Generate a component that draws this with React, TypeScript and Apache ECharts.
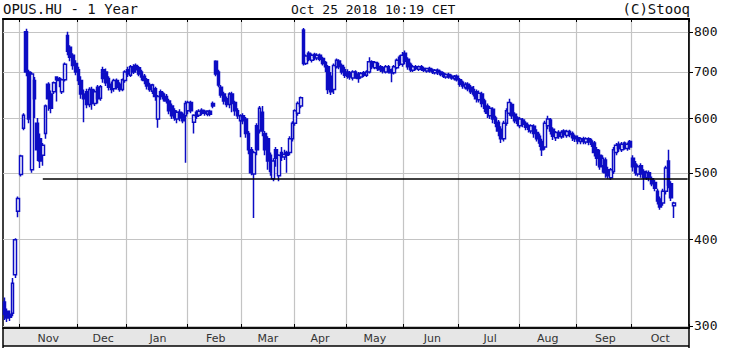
import React, { useEffect, useRef } from 'react';
import * as echarts from 'echarts';

type OHLC = [number, number, number, number]; // open, close, low, high

const oct17: OHLC[] = [
  [325, 312, 306, 330], [315, 308, 304, 318], [312, 309, 305, 316], [313, 346, 310, 352],
  [356, 400, 352, 402], [440, 459, 431, 462],
];
const nov17: OHLC[] = [
  [497, 529, 494, 531], [580, 606, 576, 610], [800, 700, 690, 808], [700, 598, 590, 705],
  [505, 695, 500, 700], [680, 640, 600, 688], [590, 540, 520, 600], [560, 520, 508, 570],
  [530, 548, 512, 552], [570, 625, 560, 628], [672, 640, 615, 676], [650, 620, 610, 658],
  [655, 675, 650, 678], [688, 682, 634, 690], [685, 680, 665, 688], [655, 682, 650, 685],
  [682, 718, 678, 722], [790, 750, 740, 800], [760, 735, 725, 765], [740, 715, 705, 745],
  [720, 700, 692, 728],
];
const dec17: OHLC[] = [
  [705, 680, 670, 712], [680, 650, 640, 690], [650, 640, 592, 660], [655, 628, 620, 662],
  [628, 660, 622, 665], [660, 630, 617, 666], [630, 655, 625, 660], [665, 640, 630, 670],
  [641, 666, 636, 670], [705, 685, 675, 712], [700, 675, 668, 708], [685, 665, 658, 690],
  [672, 660, 652, 678], [662, 680, 655, 684], [680, 665, 660, 685], [672, 660, 655, 676],
  [660, 682, 656, 685], [680, 700, 675, 704],
];
const jan18: OHLC[] = [
  [705, 695, 688, 712], [692, 712, 688, 716], [712, 700, 695, 718], [715, 705, 698, 720],
  [710, 695, 690, 714], [700, 688, 680, 705], [690, 680, 672, 695], [682, 668, 660, 686],
  [670, 660, 655, 675], [656, 670, 650, 673], [662, 645, 636, 666], [598, 645, 581, 648],
  [655, 645, 638, 660], [650, 640, 634, 654], [645, 635, 630, 650], [635, 615, 608, 640],
  [625, 605, 598, 630], [615, 600, 595, 620], [598, 612, 590, 616], [612, 600, 594, 618],
  [608, 595, 590, 612], [605, 630, 517, 636],
];
const feb18: OHLC[] = [
  [615, 632, 608, 636], [632, 615, 610, 636], [592, 606, 570, 608], [612, 604, 598, 616],
  [606, 614, 602, 618], [616, 610, 606, 620], [614, 610, 605, 617], [608, 614, 604, 616],
  [614, 608, 604, 617], [630, 625, 620, 634], [725, 695, 690, 728], [700, 670, 665, 705],
  [665, 648, 642, 670], [650, 635, 628, 655], [640, 628, 622, 645], [628, 650, 620, 654],
  [650, 630, 612, 655], [632, 615, 605, 636], [615, 605, 598, 620], [595, 605, 563, 608],
];
const mar18: OHLC[] = [
  [605, 595, 588, 610], [598, 570, 562, 602], [570, 540, 532, 575], [540, 500, 496, 545],
  [498, 535, 430, 538], [585, 540, 530, 590], [576, 620, 570, 625], [612, 575, 565, 625],
  [570, 540, 530, 575], [560, 520, 505, 565], [530, 502, 495, 535], [490, 520, 486, 525],
  [540, 525, 510, 545], [495, 530, 486, 532], [535, 528, 520, 545], [527, 532, 522, 540],
  [535, 530, 500, 538], [535, 560, 530, 565], [560, 590, 555, 594],
];
const apr18: OHLC[] = [
  [590, 615, 585, 618], [610, 630, 605, 634], [625, 642, 620, 645], [805, 720, 715, 810],
  [720, 738, 716, 742], [745, 730, 725, 750], [728, 740, 722, 744], [742, 735, 728, 746],
  [733, 740, 728, 745], [740, 730, 725, 744], [732, 720, 715, 736], [722, 712, 700, 726],
  [712, 660, 650, 716], [690, 655, 648, 700], [660, 715, 650, 720], [712, 728, 708, 732],
  [726, 712, 706, 730], [715, 700, 694, 720], [705, 692, 686, 712],
];
const may18: OHLC[] = [
  [700, 690, 684, 706], [698, 688, 682, 702], [686, 700, 680, 704], [700, 690, 684, 704],
  [695, 685, 675, 700], [688, 696, 684, 700], [698, 692, 688, 702], [692, 700, 688, 704],
  [700, 724, 696, 735], [724, 712, 706, 728], [710, 722, 706, 726], [720, 708, 702, 724],
  [712, 705, 700, 716], [710, 702, 696, 714], [700, 712, 696, 716], [712, 702, 696, 716],
  [705, 698, 676, 708], [698, 712, 694, 716], [710, 728, 706, 732], [735, 720, 714, 740],
  [718, 740, 712, 748],
];
const jun18: OHLC[] = [
  [745, 725, 718, 752], [730, 712, 705, 735], [718, 705, 700, 722], [704, 712, 700, 716],
  [712, 708, 704, 716], [706, 712, 702, 715], [712, 706, 702, 716], [708, 704, 700, 712],
  [702, 708, 698, 710], [708, 702, 698, 712], [704, 700, 695, 708], [698, 704, 694, 707],
  [704, 698, 693, 708], [700, 694, 690, 703], [696, 690, 686, 700], [688, 694, 684, 697],
  [694, 688, 684, 698], [690, 686, 682, 694], [684, 690, 680, 693], [690, 682, 678, 694],
];
const jul18: OHLC[] = [
  [682, 672, 666, 686], [676, 668, 662, 680], [664, 672, 660, 676], [672, 662, 656, 676],
  [665, 655, 650, 670], [660, 650, 645, 668], [655, 640, 632, 660], [638, 652, 632, 658],
  [650, 630, 622, 655], [635, 620, 612, 640], [625, 610, 600, 630], [605, 620, 598, 625],
  [618, 598, 590, 622], [600, 590, 582, 605], [592, 575, 565, 596], [578, 560, 552, 584],
  [560, 590, 555, 595], [590, 615, 585, 620], [610, 632, 605, 640], [628, 605, 598, 632],
  [608, 595, 590, 612], [600, 590, 584, 604],
];
const aug18: OHLC[] = [
  [585, 598, 580, 602], [596, 588, 582, 600], [590, 582, 576, 594], [585, 578, 572, 588],
  [575, 585, 570, 588], [584, 570, 562, 588], [572, 560, 555, 578], [565, 552, 545, 570],
  [555, 540, 529, 560], [545, 590, 540, 595], [585, 598, 578, 605], [596, 575, 568, 600],
  [578, 565, 558, 582], [562, 572, 556, 575], [572, 565, 560, 576], [564, 572, 560, 576],
  [575, 568, 562, 578], [566, 574, 562, 577], [574, 568, 563, 577], [570, 562, 556, 574],
  [565, 560, 554, 568],
];
const sep18: OHLC[] = [
  [562, 556, 550, 566], [555, 560, 550, 563], [560, 555, 550, 564], [554, 560, 550, 563],
  [560, 554, 548, 563], [556, 550, 545, 560], [552, 535, 528, 556], [540, 525, 512, 545],
  [530, 510, 505, 540], [512, 525, 500, 530], [522, 500, 492, 526], [505, 495, 490, 510],
  [492, 505, 488, 508], [502, 540, 498, 545], [535, 548, 530, 552], [550, 542, 536, 555],
  [540, 550, 536, 554], [552, 545, 540, 555], [542, 550, 538, 553], [555, 545, 540, 558],
];
const oct18: OHLC[] = [
  [525, 510, 502, 530], [515, 500, 495, 520], [498, 510, 494, 514], [512, 498, 492, 516],
  [502, 492, 472, 506], [492, 500, 488, 504], [500, 492, 486, 504], [490, 482, 478, 494],
  [484, 475, 470, 488], [470, 455, 450, 474], [458, 446, 442, 462], [452, 470, 448, 474],
  [470, 508, 465, 512], [520, 480, 475, 540], [482, 460, 455, 486], [448, 452, 430, 454],
];

const monthNames = ['Oct', 'Nov', 'Dec', 'Jan', 'Feb', 'Mar', 'Apr', 'May', 'Jun', 'Jul', 'Aug', 'Sep', 'Oct'];
const monthData = [oct17, nov17, dec17, jan18, feb18, mar18, apr18, may18, jun18, jul18, aug18, sep18, oct18];
const trailingSlots = 5;
const yTicks = [300, 400, 500, 600, 700, 800];
const supportLevel = 490;
const supportStartIndex = 14;
const titleLeft = 'OPUS.HU - 1 Year';
const titleCenter = 'Oct 25 2018 10:19 CET';
const titleRight = '(C)Stooq';

const BLUE = '#0c0cc4';

export default function App() {
  const ref = useRef<HTMLDivElement>(null);
  useEffect(() => {
    if (!ref.current) return;
    const chart = echarts.init(ref.current, undefined, { renderer: 'svg' });

    const categories: string[] = [];
    const candles: OHLC[] = [];
    const monthStarts = new Set<number>();
    const labelIdx = new Set<number>();
    monthData.forEach((m, k) => {
      const start = categories.length;
      if (k > 0) monthStarts.add(start);
      m.forEach((d, j) => {
        categories.push(`${monthNames[k]} ${k}-${j + 1}`);
        candles.push(d);
      });
      const len = k === monthData.length - 1 ? m.length + trailingSlots : m.length;
      if (k > 0) labelIdx.add(start + Math.floor(len / 2));
    });
    for (let t = 0; t < trailingSlots; t++) categories.push(`Oct x-${t}`);
    const lastIdx = categories.length - 1;

    const left = 3, right = 41, top = 19, bottom = 20;
    const W = 730, H = 348;

    chart.setOption({
      animation: false,
      grid: { left, right, top, bottom, show: true, borderColor: '#000', borderWidth: 1.5 },
      xAxis: [
        {
          type: 'category',
          data: categories,
          boundaryGap: true,
          position: 'bottom',
          axisLine: { show: true, lineStyle: { color: '#000', width: 1.5 } },
          axisTick: { show: true, inside: true, length: 4, interval: (i: number) => monthStarts.has(i), lineStyle: { color: '#000' } },
          axisLabel: {
            interval: (i: number) => labelIdx.has(i),
            formatter: (v: string) => v.split(' ')[0],
            fontFamily: 'DejaVu Sans',
            fontSize: 11,
            color: '#333',
            margin: 5,
          },
          splitLine: { show: true, interval: (i: number) => monthStarts.has(i), lineStyle: { color: '#c4c4c4', width: 1.2 } },
        },
        {
          type: 'category',
          data: categories,
          boundaryGap: true,
          position: 'top',
          axisLine: { show: true, lineStyle: { color: '#000', width: 2 } },
          axisTick: { show: true, inside: true, length: 3, interval: (i: number) => monthStarts.has(i), lineStyle: { color: '#000' } },
          axisLabel: { show: false },
          splitLine: { show: false },
        },
      ],
      yAxis: {
        type: 'log',
        logBase: 10,
        position: 'right',
        min: 298,
        max: 835,
        axisLine: { show: true, lineStyle: { color: '#000', width: 1.5 } },
        axisTick: { show: true, customValues: yTicks, length: 4, lineStyle: { color: '#000' } },
        axisLabel: { customValues: yTicks, fontFamily: 'DejaVu Sans Mono', fontSize: 13, color: '#111', margin: 5 },
        splitLine: { show: true, lineStyle: { color: '#c4c4c4', width: 1.2 } },
      },
      series: [
        {
          type: 'candlestick',
          data: candles,
          barWidth: 3.2,
          barMaxWidth: 4,
          itemStyle: { color: '#ffffff', color0: BLUE, borderColor: BLUE, borderColor0: BLUE, borderWidth: 1.5 },
          markLine: {
            silent: true,
            symbol: 'none',
            label: { show: false },
            lineStyle: { color: '#000', width: 1.5, type: 'solid' },
            data: [[{ coord: [supportStartIndex, supportLevel] }, { coord: [lastIdx, supportLevel] }]],
          },
        },
      ],
      graphic: [
        { type: 'rect', z: -10, shape: { x: left, y: H - bottom + 1, width: W - left - right, height: bottom - 3 }, style: { fill: '#e6e6e6' } },
        { type: 'line', shape: { x1: left, y1: H - 2, x2: W - right, y2: H - 2 }, style: { stroke: '#000', lineWidth: 1.5 } },
        { type: 'line', shape: { x1: left, y1: H - bottom, x2: left, y2: H }, style: { stroke: '#000', lineWidth: 1.5 } },
        { type: 'line', shape: { x1: W - right, y1: H - bottom, x2: W - right, y2: H }, style: { stroke: '#000', lineWidth: 1.5 } },
        { type: 'text', x: 3, y: 9, style: { text: titleLeft, font: '14px "DejaVu Sans Mono"', fill: '#111', textVerticalAlign: 'middle' } },
        { type: 'text', x: 291, y: 9, style: { text: titleCenter, font: '13px "DejaVu Sans Mono"', fill: '#111', textVerticalAlign: 'middle' } },
        { type: 'text', x: 690, y: 9, style: { text: titleRight, font: '14px "DejaVu Sans Mono"', fill: '#111', textAlign: 'right', textVerticalAlign: 'middle' } },
      ],
    });
    return () => chart.dispose();
  }, []);
  return <div ref={ref} style={{ position: 'absolute', left: 0, top: 0, width: 730, height: 348 }} />;
}
